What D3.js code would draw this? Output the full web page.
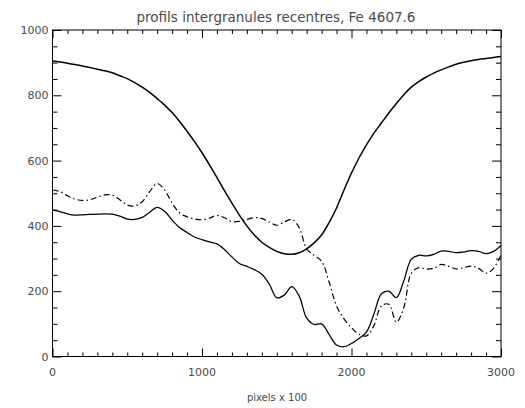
<!DOCTYPE html>
<html>
<head>
<meta charset="utf-8">
<script src="https://cdn.jsdelivr.net/npm/d3@7"></script>
<style>
  html, body { margin: 0; padding: 0; background: #fff; }
  svg { display: block; }
</style>
</head>
<body>
<script>
// ---- data ----
const pixels = d3.range(0, 3001, 50);
const upperProfile = [905,902,898,894,890,885,880,875,869,860,851,839,825,809,790,770,747,720,690,658,624,587,548,508,470,433,400,372,350,334,322,315,313,318,330,348,372,410,455,510,562,608,648,684,715,746,775,802,825,842,856,868,878,887,895,901,906,910,913,916,919];
const solidProfile = [448,444,437,433,434,435,436,437,436,430,421,420,426,442,457,445,418,395,380,366,358,351,345,328,305,285,276,266,252,222,180,188,214,185,118,98,100,68,35,30,40,55,75,130,192,200,180,232,298,310,308,313,323,322,318,320,324,322,315,322,340];
const dashDotProfile = [510,505,492,482,478,480,488,495,494,480,464,461,474,505,530,510,470,440,428,421,419,424,432,425,413,414,420,425,423,412,402,412,420,395,330,310,292,228,155,115,88,68,63,95,155,160,105,150,255,272,268,270,282,276,268,272,277,270,255,270,311];
const xTickLabels = [0, 1000, 2000, 3000];
const yTickLabels = [0, 200, 400, 600, 800, 1000];
const titleText = "profils intergranules recentres, Fe 4607.6";
const xTitle = "pixels x 100";

// ---- layout ----
const W = 525, H = 408;
const mLeft = 52.5, mRight = 501, mTop = 30, mBottom = 356.5;

const svg = d3.select("body").append("svg").attr("width", W).attr("height", H);

const x = d3.scaleLinear().domain([0, 3000]).range([mLeft, mRight]);
const y = d3.scaleLinear().domain([0, 1000]).range([mBottom, mTop]);

const textColor = "#4a4a4a";
const font = "'DejaVu Sans', sans-serif";

// frame
svg.append("rect").attr("x", mLeft).attr("y", mTop)
  .attr("width", mRight - mLeft).attr("height", mBottom - mTop)
  .attr("fill", "none").attr("stroke", "#000").attr("stroke-width", 1);

function drawAxis(axisGen, tx, ty) {
  const g = svg.append("g").attr("transform", `translate(${tx},${ty})`).call(axisGen);
  g.select(".domain").remove();
  g.selectAll("line").attr("stroke", "#000").attr("stroke-width", 1);
  return g;
}

const xMinor = d3.range(0, 3001, 100).filter(v => v % 1000 !== 0);
const yMinor = d3.range(0, 1001, 50).filter(v => v % 200 !== 0);

// bottom axis (inward ticks)
drawAxis(d3.axisTop(x).tickValues(xMinor).tickSize(4).tickFormat(""), 0, mBottom);
drawAxis(d3.axisTop(x).tickValues(xTickLabels).tickSize(8).tickFormat(""), 0, mBottom);
// top axis
drawAxis(d3.axisBottom(x).tickValues(xMinor).tickSize(4).tickFormat(""), 0, mTop);
drawAxis(d3.axisBottom(x).tickValues(xTickLabels).tickSize(8).tickFormat(""), 0, mTop);
// left axis
drawAxis(d3.axisRight(y).tickValues(yMinor).tickSize(5).tickFormat(""), mLeft, 0);
drawAxis(d3.axisRight(y).tickValues(yTickLabels).tickSize(9).tickFormat(""), mLeft, 0);
// right axis
drawAxis(d3.axisLeft(y).tickValues(yMinor).tickSize(5).tickFormat(""), mRight, 0);
drawAxis(d3.axisLeft(y).tickValues(yTickLabels).tickSize(9).tickFormat(""), mRight, 0);

// tick labels
svg.append("g").selectAll("text").data(xTickLabels).join("text")
  .attr("x", d => x(d)).attr("y", mBottom + 19)
  .attr("text-anchor", "middle")
  .attr("font-family", font).attr("font-size", 11).attr("fill", textColor)
  .text(d => d);

svg.append("g").selectAll("text").data(yTickLabels).join("text")
  .attr("x", mLeft - 4).attr("y", d => y(d) + 4)
  .attr("text-anchor", "end")
  .attr("font-family", font).attr("font-size", 11).attr("fill", textColor)
  .text(d => d);

// titles
svg.append("text").attr("x", 276).attr("y", 22)
  .attr("text-anchor", "middle").attr("font-family", font)
  .attr("font-size", 13.5).attr("fill", textColor).text(titleText);

svg.append("text").attr("x", 277).attr("y", 401)
  .attr("text-anchor", "middle").attr("font-family", font)
  .attr("font-size", 10).attr("fill", textColor).text(xTitle);

// lines
function path(values) {
  return d3.line().x((d, i) => x(pixels[i])).y(d => y(d)).curve(d3.curveCatmullRom.alpha(0.5))(values);
}

svg.append("path").attr("d", path(upperProfile))
  .attr("fill", "none").attr("stroke", "#000").attr("stroke-width", 1.5);
svg.append("path").attr("d", path(solidProfile))
  .attr("fill", "none").attr("stroke", "#000").attr("stroke-width", 1.25);
svg.append("path").attr("d", path(dashDotProfile))
  .attr("fill", "none").attr("stroke", "#000").attr("stroke-width", 1.2)
  .attr("stroke-dasharray", "6,3,1.5,3");
</script>
</body>
</html>
